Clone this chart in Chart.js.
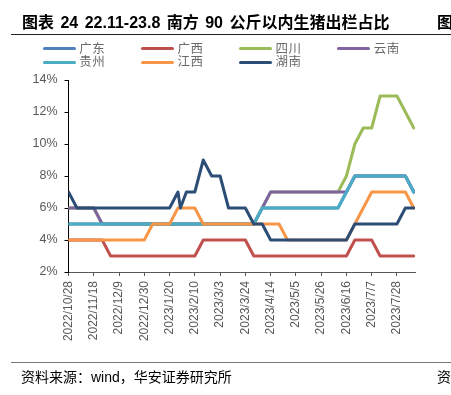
<!DOCTYPE html>
<html>
<head>
<meta charset="utf-8">
<script src="https://cdn.jsdelivr.net/npm/chart.js@4.4.0/dist/chart.umd.min.js"></script>
<style>
  html, body { margin: 0; padding: 0; background: #fff; }
  #page { position: relative; width: 451px; height: 395px; overflow: hidden; }
  #chart { position: absolute; left: 0; top: 0; }
  .txt { position: absolute; white-space: nowrap; font-family: "Liberation Sans", "Noto Sans CJK SC", sans-serif; }
  .title { font-size: 16px; font-weight: bold; color: #000; line-height: 18px; word-spacing: 2px; }
  .foot { font-size: 14px; color: #000; line-height: 16px; }
  .rule { position: absolute; height: 1px; }
  .sw { position: absolute; width: 33px; height: 3px; border-radius: 1.5px; }
  .lg { font-size: 12.5px; color: #6a6a6a; line-height: 14px; letter-spacing: 0.5px; }
</style>
</head>
<body>
<div id="page">
  <canvas id="chart" width="451" height="395"></canvas>
  <div class="txt title" style="left:22px; top:14px;">图表 24 22.11-23.8 南方 90 公斤以内生猪出栏占比</div>
  <div class="txt title" style="left:437px; top:14px;">图</div>
  <div class="rule" style="left:11px; top:34px; width:440px; background:#222;"></div>
  <div id="legend"></div>
  <div class="rule" style="left:11px; top:362px; width:440px; background:#777;"></div>
  <div class="txt foot" style="left:21px; top:369px;">资料来源：wind，华安证券研究所</div>
  <div class="txt foot" style="left:437px; top:369px;">资</div>
</div>
<script>
// weekly dates (one extra reading around the Spring Festival)
const dates = ['2022/10/28','2022/11/4','2022/11/11','2022/11/18','2022/11/25','2022/12/2','2022/12/9',
  '2022/12/16','2022/12/23','2022/12/30','2023/1/6','2023/1/13','2023/1/20','2023/1/27','2023/1/29',
  '2023/2/3','2023/2/10','2023/2/17','2023/2/24','2023/3/3','2023/3/10','2023/3/17','2023/3/24',
  '2023/3/31','2023/4/7','2023/4/14','2023/4/21','2023/4/28','2023/5/5','2023/5/12','2023/5/19',
  '2023/5/26','2023/6/2','2023/6/9','2023/6/16','2023/6/23','2023/6/30','2023/7/7','2023/7/14',
  '2023/7/21','2023/7/28','2023/8/4','2023/8/11'];

const names = ['广东', '广西', '四川', '云南', '贵州', '江西', '湖南'];
const colors = ['#4F81BD', '#C0504D', '#9BBB59', '#8064A2', '#4BACC6', '#F79646', '#2C4D75'];

// values in %
const guangdong = [5,5,5,5,5,5,5,5,5,5,5,5,5,5,5,5,5,5,5,5,5,5,5,5,6,6,6,6,6,6,6,6,6,6,7,8,8,8,8,8,8,8,7];
const guangxi   = [4,4,4,4,4,3,3,3,3,3,3,3,3,3,3,3,3,4,4,4,4,4,4,3,3,3,3,3,3,3,3,3,3,3,3,4,4,4,3,3,3,3,3];
const sichuan   = [6,6,6,6,5,5,5,5,5,5,5,5,5,5,5,5,5,5,5,5,5,5,5,5,6,7,7,7,7,7,7,7,7,7,8,10,11,11,13,13,13,12,11];
const yunnan    = [6,6,6,6,5,5,5,5,5,5,5,5,5,5,5,5,5,5,5,5,5,5,5,5,6,7,7,7,7,7,7,7,7,7,7,8,8,8,8,8,8,8,7];
const guizhou   = [5,5,5,5,5,5,5,5,5,5,5,5,5,5,5,5,5,5,5,5,5,5,5,5,6,6,6,6,6,6,6,6,6,6,7,8,8,8,8,8,8,8,7];
const jiangxi   = [4,4,4,4,4,4,4,4,4,4,5,5,5,6,6,6,6,5,5,5,5,5,5,5,5,5,5,4,4,4,4,4,4,4,4,5,6,7,7,7,7,7,6];
const hunan     = [7,6,6,6,6,6,6,6,6,6,6,6,6,7,6,7,7,9,8,8,6,6,6,5,5,4,4,4,4,4,4,4,4,4,4,5,5,5,5,5,5,6,6];

const series = [guangdong, guangxi, sichuan, yunnan, guizhou, jiangxi, hunan];

const yTicks = [2, 4, 6, 8, 10, 12, 14];
const xStep = 21;   // tick label every 3 weeks
const xMaxDay = 288;

const DAY = 86400000;
function toDay(s) {
  const p = s.split('/').map(Number);
  return Math.round((Date.UTC(p[0], p[1] - 1, p[2]) - Date.UTC(2022, 9, 28)) / DAY);
}
function fromDay(d) {
  const t = new Date(Date.UTC(2022, 9, 28) + d * DAY);
  return t.getUTCFullYear() + '/' + (t.getUTCMonth() + 1) + '/' + t.getUTCDate();
}
const days = dates.map(toDay);

// legend (two rows of four)
const legend = document.getElementById('legend');
names.forEach((n, i) => {
  const col = i % 4, row = Math.floor(i / 4);
  const x = 42.7 + col * 98.2, y = 47 + row * 13.7;
  const sw = document.createElement('div');
  sw.className = 'sw';
  sw.style.left = x + 'px';
  sw.style.top = y + 'px';
  sw.style.background = colors[i];
  legend.appendChild(sw);
  const t = document.createElement('div');
  t.className = 'txt lg';
  t.style.left = (x + 36.5) + 'px';
  t.style.top = (y - 5.5) + 'px';
  t.textContent = n;
  legend.appendChild(t);
});

const ctx = document.getElementById('chart').getContext('2d');
new Chart(ctx, {
  type: 'line',
  data: {
    datasets: series.map((vals, i) => ({
      label: names[i],
      data: vals.map((v, k) => ({ x: days[k], y: v })),
      borderColor: colors[i],
      backgroundColor: colors[i],
      borderWidth: 3,
      borderJoinStyle: 'round',
      borderCapStyle: 'round',
      pointRadius: 0,
      tension: 0,
      order: 6 - i
    }))
  },
  options: {
    responsive: false,
    animation: false,
    layout: { padding: { left: 0, right: 36, top: 80, bottom: 43 } },
    plugins: { legend: { display: false }, tooltip: { enabled: false } },
    scales: {
      x: {
        type: 'linear',
        min: 0,
        max: xMaxDay,
        afterBuildTicks: (s) => { s.ticks = s.ticks.filter(t => t.value % xStep === 0); },
        afterFit: (s) => { s.height = 80; },
        ticks: {
          stepSize: xStep,
          autoSkip: false,
          maxRotation: 90,
          minRotation: 90,
          padding: 5,
          color: '#595959',
          font: { family: 'Liberation Sans', size: 12 },
          callback: (v) => fromDay(v)
        },
        grid: { drawOnChartArea: false, drawTicks: true, tickLength: 4, color: '#595959' },
        border: { display: true, color: '#595959', width: 1 }
      },
      y: {
        min: 2,
        max: 14,
        afterBuildTicks: (s) => { s.ticks = yTicks.map(v => ({ value: v })); },
        afterFit: (s) => { s.width = 68.5; },
        ticks: {
          stepSize: 2,
          padding: 7,
          color: '#595959',
          font: { family: 'Liberation Sans', size: 12.5 },
          callback: (v) => v + '%'
        },
        grid: { drawOnChartArea: false, drawTicks: true, tickLength: 4, color: '#000' },
        border: { display: true, color: '#000', width: 1 }
      }
    }
  }
});
</script>
</body>
</html>
